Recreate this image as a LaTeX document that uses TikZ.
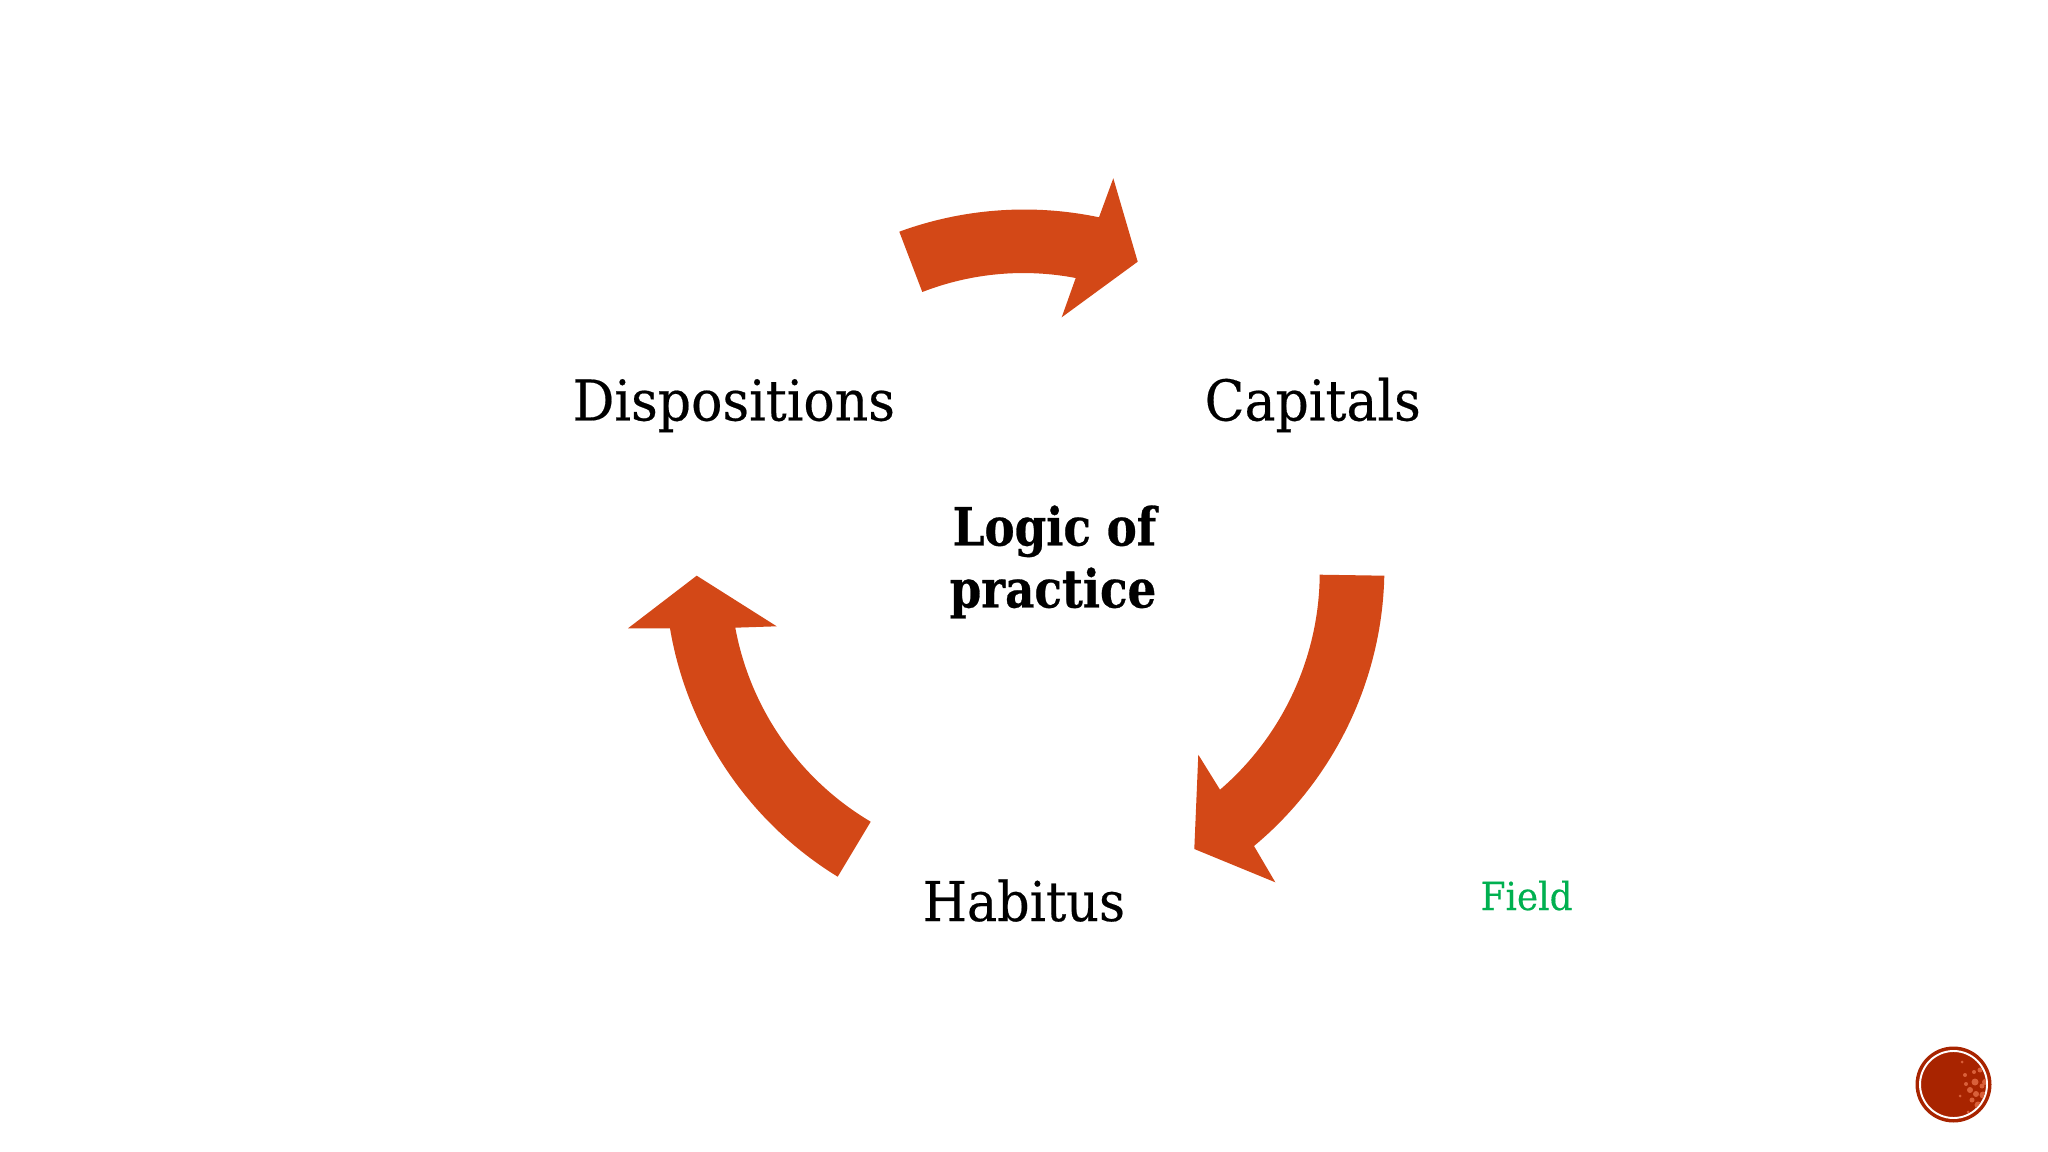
\documentclass[tikz,border=0pt]{standalone}
\usepackage{fontspec}
\setmainfont{DejaVu Serif}
\newfontfamily\slab[FakeStretch=0.925,FakeBold=0.35]{DejaVu Serif}
\newfontfamily\slabbold[FakeStretch=0.857,FakeBold=0.5]{DejaVu Serif Bold}
\definecolor{arrowred}{HTML}{D34817}
\definecolor{fieldgreen}{HTML}{00B050}
\definecolor{badge}{HTML}{A82400}
\definecolor{speck}{HTML}{D9603A}
\tikzset{
  arrowshape/.style={fill=arrowred,draw=none},
  term/.style={font=\slab\fontsize{16}{19}\selectfont,text=black,inner sep=0pt,anchor=base west},
  centre/.style={font=\slabbold\fontsize{15}{18}\selectfont,text=black,inner sep=0pt,anchor=base west},
  fieldlabel/.style={font=\slab\fontsize{11}{14}\selectfont,text=fieldgreen,inner sep=0pt,anchor=base west},
}
\begin{document}
\begin{tikzpicture}[x=0.01cm,y=-0.01cm]
\useasboundingbox[fill=white] (0,0) rectangle (2048,1152);
% top arrow
\path[arrowshape] (899.3,231.7) to[bend left=16,looseness=.87] (1099,217.3)
  -- (1113.3,178.3) -- (1137.7,261.7) -- (1061.7,317.3) -- (1075.7,278)
  to[bend right=16,looseness=.87] (922.3,292) -- cycle;
% right arrow
\path[arrowshape] (1384.3,575.7) to[bend left=24.5,looseness=.89] (1254,846)
  -- (1275.3,882.3) -- (1194.3,849) -- (1198.3,754.7) -- (1220,789.7)
  to[bend right=24.5,looseness=.89] (1319.7,574.7) -- cycle;
% left arrow
\path[arrowshape] (837.7,876.7) to[bend left=24.5,looseness=.89] (670,628.3)
  -- (628,628.3) -- (696.7,575.7) -- (776.7,626.3) -- (735.3,627.7)
  to[bend right=24.5,looseness=.89] (870.7,821.7) -- cycle;
% labels
\node[term] (disp) at (572,420.5) {Dispositions};
\node[term] (cap) at (1204,420.5) {Capitals};
\node[term,font=\slab\fontsize{15.6}{19}\selectfont] (hab) at (922,921) {Habitus};
\node[centre] (logic) at (952,545.5) {Logic of};
\node[centre] (prac) at (949,607.5) {practice};
\node[fieldlabel] (field) at (1480,910) {Field};
% badge
\fill[badge] (1953.5,1084.5) circle (38);
\draw[white,line width=0.55pt] (1953.5,1084.5) circle (33.5);
\begin{scope}
\clip (1953.5,1084.5) circle (32.5);
\foreach \px/\py/\ps in {1965/1075/2,1970/1090/3,1975/1082/3.5,1980/1070/2.5,1983/1095/3.5,1972/1100/2.5,1978/1105/3.5,1962/1062/1.5,1985/1082/3,1968/1112/1.5,1966/1084/2,1976/1094/3,1982/1086/2.5,1960/1096/1.5,1974/1072/2}
  \fill[speck] (\px,\py) circle (\ps);
\end{scope}
\end{tikzpicture}
\end{document}
